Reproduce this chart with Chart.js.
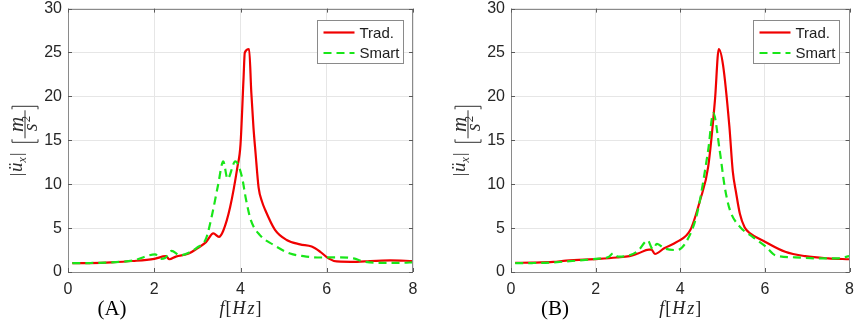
<!DOCTYPE html>
<html>
<head>
<meta charset="utf-8">
<script src="https://cdn.jsdelivr.net/npm/chart.js@4.4.0/dist/chart.umd.min.js"></script>
<style>
  html, body { margin: 0; padding: 0; background: #fff; }
  #wrap { position: relative; width: 862px; height: 326px; overflow: hidden; }
  canvas { position: absolute; top: -7px; }
  #chartA { left: 0; }
  #chartB { left: 431px; }
</style>
</head>
<body>
<div id="wrap">
  <canvas id="chartA" width="431" height="333"></canvas>
  <canvas id="chartB" width="431" height="333"></canvas>
</div>
<script>
// --- datos (frecuencia en Hz, amplitud en m/s^2) ---

// Panel (A)
const fTradA  = [0.1, 0.5, 1.0, 1.5, 2.0, 2.27, 2.35, 2.5, 2.8, 3.0, 3.2, 3.37, 3.5, 3.6, 3.76, 3.93, 4.0, 4.07, 4.1, 4.2, 4.25, 4.3, 4.35, 4.42, 4.5, 4.57, 4.8, 5.07, 5.38, 5.65, 5.85, 6.04, 6.23, 6.7, 7.0, 7.47, 8.0];
const vTradA  = [1.0, 1.02, 1.1, 1.25, 1.5, 1.8, 1.45, 1.75, 2.1, 2.7, 3.4, 4.4, 4.0, 4.7, 7.4, 12.0, 14.5, 22.0, 25.0, 25.4, 20.5, 16.5, 13.5, 9.6, 8.0, 7.1, 4.8, 3.65, 3.15, 2.9, 2.3, 1.55, 1.2, 1.15, 1.25, 1.33, 1.25];
const fSmartA = [0.1, 0.5, 1.0, 1.5, 2.02, 2.15, 2.25, 2.4, 2.6, 2.8, 3.0, 3.2, 3.34, 3.48, 3.6, 3.7, 3.88, 4.03, 4.13, 4.24, 4.45, 4.76, 5.15, 5.46, 5.85, 6.23, 6.62, 6.85, 7.15, 7.77, 8.0];
const vSmartA = [1.0, 1.02, 1.1, 1.3, 2.0, 1.5, 1.6, 2.4, 1.9, 2.2, 2.8, 3.8, 6.5, 9.9, 12.6, 10.6, 12.6, 10.9, 8.2, 5.9, 4.2, 3.1, 2.1, 1.8, 1.65, 1.67, 1.55, 1.2, 1.05, 1.05, 1.1];

// Panel (B)
const fTradB  = [0.1, 0.5, 1.0, 1.3, 2.07, 2.5, 2.8, 3.0, 3.26, 3.32, 3.4, 3.62, 3.93, 4.24, 4.47, 4.66, 4.82, 4.91, 5.01, 5.16, 5.24, 5.32, 5.41, 5.52, 5.65, 6.0, 6.48, 6.95, 7.5, 8.0];
const vTradB  = [1.05, 1.07, 1.15, 1.3, 1.5, 1.65, 1.8, 2.1, 2.55, 2.55, 2.05, 2.7, 3.45, 4.8, 8.2, 12.0, 19.6, 25.4, 23.6, 16.6, 11.5, 9.0, 6.6, 5.1, 4.4, 3.45, 2.3, 1.8, 1.55, 1.45];
const fSmartB = [0.1, 0.5, 1.0, 2.0, 2.3, 2.42, 2.53, 2.8, 3.0, 3.23, 3.35, 3.45, 3.62, 3.93, 4.16, 4.4, 4.66, 4.78, 4.93, 5.05, 5.17, 5.4, 5.71, 6.02, 6.25, 6.71, 7.25, 7.7, 8.0];
const vSmartB = [1.0, 1.02, 1.1, 1.5, 1.7, 2.15, 1.75, 1.9, 2.4, 3.6, 2.6, 3.2, 2.7, 2.5, 3.6, 6.7, 13.9, 18.1, 13.9, 9.7, 7.1, 5.2, 4.0, 2.9, 1.9, 1.67, 1.55, 1.55, 1.8];

const seriesNames = ['Trad.', 'Smart'];
const xTicks = [0, 2, 4, 6, 8];
const yTicks = [0, 5, 10, 15, 20, 25, 30];

const RED = 'rgb(240, 0, 0)';
const GREEN = 'rgb(25, 230, 25)';
const TICK_FONT = '"Liberation Sans", Arial, sans-serif';
const SERIF = '"Liberation Serif", "DejaVu Serif", serif';
const SHIFT = 7; // el canvas esta desplazado 7px hacia arriba

function toPoints(fs, vs) {
    return fs.map((f, i) => ({ x: f, y: vs[i] }));
}

// dibuja texto girado -90 grados (se lee de abajo hacia arriba)
function rotText(ctx, txt, px, py, font) {
    ctx.save();
    ctx.font = font;
    ctx.translate(px, py);
    ctx.rotate(-Math.PI / 2);
    ctx.textAlign = 'left';
    ctx.textBaseline = 'alphabetic';
    ctx.fillText(txt, 0, 0);
    const w = ctx.measureText(txt).width;
    ctx.restore();
    return w;
}

function drawYLabel(ctx, ax, py0) {
    ctx.fillStyle = '#303030';
    ctx.strokeStyle = '#303030';
    let u = 0;
    u += rotText(ctx, '|', ax - 3, py0 - u, '17px ' + SERIF) + 1;
    u += rotText(ctx, 'ü', ax - 3, py0 - u, 'italic 19px ' + SERIF);
    u += rotText(ctx, 'x', ax + 1, py0 - u, 'italic 12px ' + SERIF) + 1;
    rotText(ctx, '|', ax - 3, py0 - u, '17px ' + SERIF);

    // corchetes y fraccion m / s^2
    const u1 = 34, u2 = 70;
    ctx.lineWidth = 1;
    ctx.beginPath();
    // "["
    ctx.moveTo(ax - 13, py0 - u1 - 3); ctx.lineTo(ax - 13, py0 - u1);
    ctx.lineTo(ax + 13, py0 - u1); ctx.lineTo(ax + 13, py0 - u1 - 3);
    // "]"
    ctx.moveTo(ax - 13, py0 - u2 + 3); ctx.lineTo(ax - 13, py0 - u2);
    ctx.lineTo(ax + 13, py0 - u2); ctx.lineTo(ax + 13, py0 - u2 + 3);
    // barra de fraccion
    ctx.moveTo(ax, py0 - u1 - 4); ctx.lineTo(ax, py0 - u2 + 4);
    ctx.stroke();

    ctx.save();
    ctx.font = 'italic 21px ' + SERIF;
    const wm = ctx.measureText('m').width;
    ctx.restore();
    rotText(ctx, 'm', ax - 2.5, py0 - 52 + wm / 2, 'italic 21px ' + SERIF);
    rotText(ctx, 's', ax + 12, py0 - 45, 'italic 20px ' + SERIF);
    rotText(ctx, '2', ax + 5, py0 - 54, '13px ' + SERIF);
}

function drawXLabel(ctx, cx, base) {
    const parts = [
        ['f', 'italic 18px ' + SERIF, 1],
        ['[', '18px ' + SERIF, 1],
        ['H', 'italic 18px ' + SERIF, 2],
        ['z', 'italic 18px ' + SERIF, 1],
        [']', '18px ' + SERIF, 0]
    ];
    let total = 0;
    parts.forEach(p => { ctx.font = p[1]; total += ctx.measureText(p[0]).width + p[2]; });
    let x = cx - total / 2;
    ctx.fillStyle = '#202020';
    ctx.textAlign = 'left';
    ctx.textBaseline = 'alphabetic';
    parts.forEach(p => {
        ctx.font = p[1];
        ctx.fillText(p[0], x, base);
        x += ctx.measureText(p[0]).width + p[2];
    });
}

const decorPlugin = {
    id: 'decor',
    afterDraw(chart, args, opts) {
        const ctx = chart.ctx;
        const a = chart.chartArea;
        const xs = chart.scales.x, ys = chart.scales.y;
        ctx.save();

        // caja de ejes y marcas interiores
        ctx.strokeStyle = '#8a8a8a';
        ctx.lineWidth = 1;
        ctx.strokeRect(Math.round(a.left) + 0.5, Math.round(a.top) + 0.5,
                       Math.round(a.right - a.left) - 1, Math.round(a.bottom - a.top));
        ctx.strokeStyle = '#5a5a5a';
        ctx.beginPath();
        xTicks.forEach(t => {
            const px = Math.round(xs.getPixelForValue(t)) + 0.5;
            ctx.moveTo(px, a.bottom); ctx.lineTo(px, a.bottom - 4);
            ctx.moveTo(px, a.top); ctx.lineTo(px, a.top + 4);
        });
        yTicks.forEach(t => {
            const py = Math.round(ys.getPixelForValue(t)) + 0.5;
            ctx.moveTo(a.left, py); ctx.lineTo(a.left + 4, py);
            ctx.moveTo(a.right, py); ctx.lineTo(a.right - 4, py);
        });
        ctx.stroke();

        // leyenda
        const bw = 86, bh = 43;
        const bx = Math.round(a.right - 10.5 - bw) + 0.5, by = 20.5 + SHIFT;
        ctx.fillStyle = '#fff';
        ctx.fillRect(bx, by, bw, bh);
        ctx.strokeStyle = '#8a8a8a';
        ctx.strokeRect(bx, by, bw, bh);
        const rows = [[RED, [], 32.5 + SHIFT], [GREEN, [8, 5], 53 + SHIFT]];
        rows.forEach((r, i) => {
            ctx.strokeStyle = r[0];
            ctx.lineWidth = 2.2;
            ctx.setLineDash(r[1]);
            ctx.beginPath();
            ctx.moveTo(bx + 6, r[2]); ctx.lineTo(bx + 37, r[2]);
            ctx.stroke();
            ctx.setLineDash([]);
            ctx.fillStyle = '#202020';
            ctx.font = '15px ' + TICK_FONT;
            ctx.textAlign = 'left';
            ctx.textBaseline = 'middle';
            ctx.fillText(seriesNames[i], bx + 42, r[2] + 1);
        });

        // titulos
        const mid = (a.top + a.bottom) / 2;
        drawYLabel(ctx, a.left - 43, mid + 36);
        drawXLabel(ctx, (a.left + a.right) / 2, 314 + SHIFT);
        ctx.fillStyle = '#000';
        ctx.font = '21px ' + SERIF;
        ctx.textAlign = 'center';
        ctx.textBaseline = 'alphabetic';
        ctx.fillText(opts.tag, a.left + 44, 315 + SHIFT);

        ctx.restore();
    }
};

function makeChart(canvasId, tradF, tradV, smartF, smartV, yWidth, padRight, tag) {
    const ctx = document.getElementById(canvasId).getContext('2d');
    return new Chart(ctx, {
        type: 'line',
        data: {
            datasets: [
                {
                    label: seriesNames[0],
                    data: toPoints(tradF, tradV),
                    borderColor: RED,
                    borderWidth: 2.2,
                    pointRadius: 0,
                    cubicInterpolationMode: 'monotone',
                    fill: false,
                    order: 2
                },
                {
                    label: seriesNames[1],
                    data: toPoints(smartF, smartV),
                    borderColor: GREEN,
                    borderWidth: 2.2,
                    borderDash: [8, 5],
                    pointRadius: 0,
                    cubicInterpolationMode: 'monotone',
                    fill: false,
                    order: 1
                }
            ]
        },
        options: {
            responsive: false,
            animation: false,
            layout: { autoPadding: false, padding: { left: 0, right: padRight, top: 9, bottom: 0 } },
            scales: {
                x: {
                    type: 'linear',
                    min: 0, max: 8,
                    afterBuildTicks: s => { s.ticks = xTicks.map(v => ({ value: v })); },
                    afterFit: s => { s.height = 54; },
                    grid: { color: '#e6e6e6', drawTicks: false },
                    border: { display: false },
                    ticks: {
                        padding: 8,
                        maxRotation: 0,
                        color: '#262626',
                        font: { family: TICK_FONT, size: 16 }
                    }
                },
                y: {
                    type: 'linear',
                    min: 0, max: 30,
                    afterBuildTicks: s => { s.ticks = yTicks.map(v => ({ value: v })); },
                    afterFit: s => { s.width = yWidth; },
                    grid: { color: '#e6e6e6', drawTicks: false },
                    border: { display: false },
                    ticks: {
                        padding: 6,
                        color: '#262626',
                        font: { family: TICK_FONT, size: 16 }
                    }
                }
            },
            plugins: {
                legend: { display: false },
                tooltip: { enabled: false },
                decor: { tag: tag }
            }
        },
        plugins: [decorPlugin]
    });
}

makeChart('chartA', fTradA, vTradA, fSmartA, vSmartA, 68, 18, '(A)');
makeChart('chartB', fTradB, vTradB, fSmartB, vSmartB, 80, 7, '(B)');
</script>
</body>
</html>
